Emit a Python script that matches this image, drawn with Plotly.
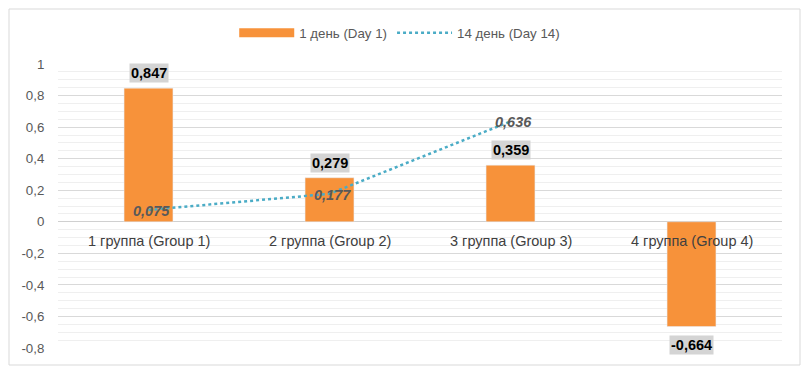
import plotly.graph_objects as go

categories = ["1 группа (Group 1)", "2 группа (Group 2)", "3 группа (Group 3)", "4 группа (Group 4)"]
day1 = [0.847, 0.279, 0.359, -0.664]
day14 = [0.075, 0.177, 0.636, None]
day1_labels = ["0,847", "0,279", "0,359", "-0,664"]
day14_labels = ["0,075", "0,177", "0,636", None]
tick_vals = [1, 0.8, 0.6, 0.4, 0.2, 0, -0.2, -0.4, -0.6, -0.8]
tick_text = ["1", "0,8", "0,6", "0,4", "0,2", "0", "-0,2", "-0,4", "-0,6", "-0,8"]

W, H = 793, 358
ML, MR, MT, MB = 50, 19, 56, 18
PW, PH = W - ML - MR, H - MT - MB

ORANGE = "#F7923A"
BLUE = "#4BACC6"

fig = go.Figure()
fig.add_trace(go.Bar(x=categories, y=day1, name="1 день (Day 1)",
                     marker_color=ORANGE, width=0.27, showlegend=False))
# legend stand-in for the bar series (wide rectangle swatch)
fig.add_trace(go.Scatter(x=[None], y=[None], name="1 день (Day 1)", mode="lines",
                         line=dict(color=ORANGE, width=9)))
fig.add_trace(go.Scatter(x=categories, y=day14, name="14 день (Day 14)", mode="lines",
                         line=dict(color=BLUE, width=2.5, dash="dot")))

ann = []
for c, v, t in zip(categories, day1, day1_labels):
    ann.append(dict(x=c, y=v, text="<b>" + t + "</b>", showarrow=False,
                    yshift=15 if v >= 0 else -18, bgcolor="#D4D4D4",
                    font=dict(size=14.5, color="#000000"), borderpad=1))
for c, v, t in zip(categories, day14, day14_labels):
    if v is None:
        continue
    ann.append(dict(x=c, y=v, text="<b><i>" + t + "</i></b>", showarrow=False,
                    xshift=3, yshift=-1, font=dict(size=14.5, color="#595959")))
for c in categories:
    ann.append(dict(x=c, y=0, text=c, showarrow=False, yshift=-19,
                    font=dict(size=14.5, color="#404040")))

fig.update_layout(
    width=W, height=H,
    margin=dict(l=ML, r=MR, t=MT, b=MB, pad=0, autoexpand=False),
    paper_bgcolor="white", plot_bgcolor="white",
    font=dict(family="Liberation Sans, Arial, sans-serif", size=13, color="#595959"),
    barmode="overlay",
    showlegend=True,
    legend=dict(orientation="h", x=0.472, xanchor="center", y=1 + 31 / PH, yanchor="middle",
                font=dict(size=13.3, color="#595959"), itemwidth=55, traceorder="normal"),
    annotations=ann,
    xaxis=dict(range=[-0.5, 3.5], showticklabels=False, showgrid=False, zeroline=False,
               showline=False, fixedrange=True),
    yaxis=dict(range=[-0.8, 1.0], tickvals=tick_vals, ticktext=tick_text,
               showgrid=True, gridcolor="#D9D9D9", gridwidth=1,
               zeroline=True, zerolinecolor="#D0D0D0", zerolinewidth=1,
               showline=False, ticks="outside", ticklen=10, tickcolor="rgba(0,0,0,0)",
               tickfont=dict(size=13.3, color="#595959"),
               minor=dict(dtick=0.05, showgrid=True, gridcolor="#EFEFEF", gridwidth=1)),
    shapes=[dict(type="rect", xref="paper", yref="paper",
                 x0=-(ML - 1) / PW, x1=1 + (MR - 1) / PW,
                 y0=-(MB - 1) / PH, y1=1 + (MT - 1) / PH,
                 line=dict(color="#D9D9D9", width=1), layer="below")],
)

fig.write_html("out.html")
